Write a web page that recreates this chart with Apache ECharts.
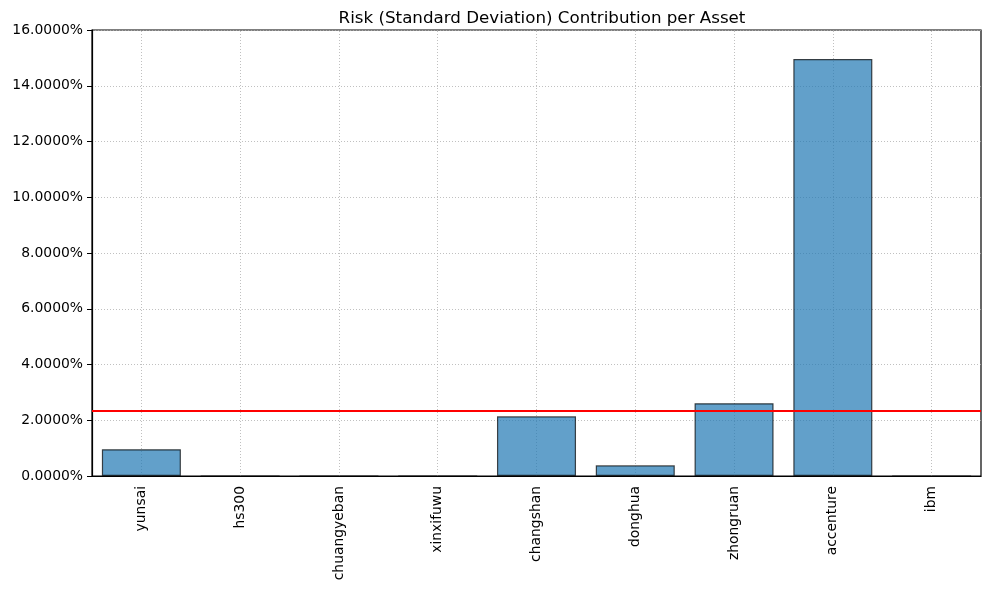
<!DOCTYPE html>
<html>
<head>
<meta charset="utf-8">
<script src="https://cdn.jsdelivr.net/npm/echarts@6/dist/echarts.min.js"></script>
<style>html,body{margin:0;padding:0;background:#fff;}#c{width:1007px;height:593px;}</style>
</head>
<body>
<div id="c"></div>
<script>
const categories = ['yunsai','hs300','chuangyeban','xinxifuwu','changshan','donghua','zhongruan','accenture','ibm'];
const contributions = [0.96, 0, 0, 0, 2.14, 0.384, 2.61, 14.96, 0];
const yTicks = [0, 2, 4, 6, 8, 10, 12, 14, 16];
const meanLine = contributions.reduce((a,b)=>a+b,0)/contributions.length;

const chart = echarts.init(document.getElementById('c'));
const font = 'DejaVu Sans';
chart.setOption({
  animation: false,
  title: {
    text: 'Risk (Standard Deviation) Contribution per Asset',
    left: 537, top: 5, textAlign: 'center',
    textStyle: {fontFamily: font, fontSize: 16.7, fontWeight: 'normal', color: '#000'}
  },
  grid: {left: 92, right: 26, top: 30, bottom: 117, show: true, borderColor: '#000', borderWidth: 1.2, backgroundColor: 'transparent'},
  xAxis: {
    type: 'category', data: categories,
    axisLine: {lineStyle: {color: '#000', width: 1.2}},
    axisTick: {alignWithLabel: true, length: 5, lineStyle: {color: '#000'}, interval: 0},
    axisLabel: {rotate: 90, interval: 0, fontFamily: font, fontSize: 13.9, color: '#000', margin: 10},
    splitLine: {show: false}
  },
  yAxis: {
    type: 'value', min: yTicks[0], max: yTicks[yTicks.length-1], interval: 2,
    axisLine: {show: true, lineStyle: {color: '#000', width: 1.2}},
    axisTick: {show: true, length: 5, lineStyle: {color: '#000'}},
    axisLabel: {fontFamily: font, fontSize: 13.9, color: '#000', margin: 9, formatter: v => v.toFixed(4) + '%'},
    splitLine: {show: true, lineStyle: {color: '#b0b0b0', type: [1, 2], width: 0.8}}
  },
  series: [
    {
      type: 'bar', data: contributions, barWidth: '80%',
      itemStyle: {color: 'rgba(31,119,180,0.7)', borderColor: 'rgba(0,0,0,0.7)', borderWidth: 1.2},
      z: 3,
      markLine: {
        silent: true, symbol: 'none', label: {show: false},
        lineStyle: {color: '#b0b0b0', type: [1, 2], width: 0.8},
        data: categories.map(c => ({xAxis: c})),
        z: 1
      }
    },
    {
      type: 'line', data: [], z: 5,
      markLine: {
        silent: true, symbol: 'none', label: {show: false},
        lineStyle: {color: '#ff0000', type: 'solid', width: 1.8},
        data: [{yAxis: meanLine}]
      }
    }
  ]
});
</script>
</body>
</html>
